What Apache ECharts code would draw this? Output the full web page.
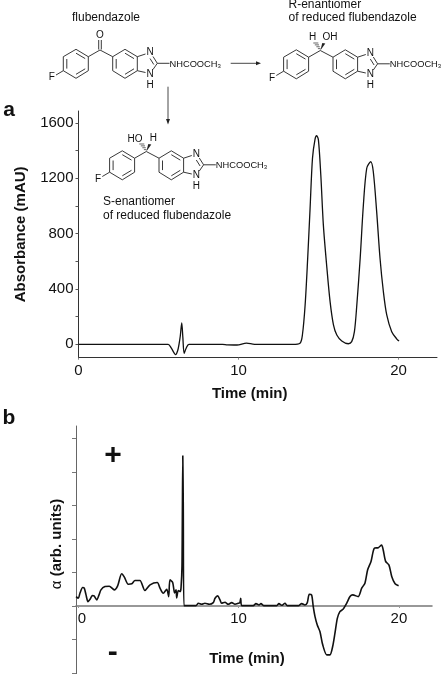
<!DOCTYPE html>
<html><head><meta charset="utf-8">
<style>html,body{margin:0;padding:0;background:#fff}#c{width:441px;height:674px}</style>
<script src="https://cdn.jsdelivr.net/npm/echarts@6/dist/echarts.min.js"></script>
</head><body><div id="c"></div>
<script>
// Panel a: absorbance (mAU) vs. time (min)
const absorbanceTrace = [[0,0],[3,0],[5.6,0],[5.8,-28],[6.07,-75],[6.2,-45],[6.28,0],[6.36,60],[6.45,155],[6.52,50],[6.6,-65],[6.72,-30],[6.9,0],[9,0],[9.3,-4],[9.9,-5],[10.5,9],[11,0],[13.4,0],[13.84,8],[13.99,67],[14.16,284],[14.32,622],[14.47,983],[14.62,1345],[14.78,1483],[14.88,1508],[14.99,1478],[15.14,1224],[15.3,862],[15.52,552],[15.72,308],[15.93,140],[16.14,67],[16.45,24],[16.86,4],[17.07,19],[17.24,91],[17.39,284],[17.6,622],[17.8,1007],[18.01,1273],[18.26,1320],[18.42,1248],[18.63,959],[18.84,622],[19.05,380],[19.26,212],[19.57,91],[19.89,38],[20.03,24]];
const absorbanceTicks = [0,200,400,600,800,1000,1200,1400,1600];
const absorbanceLabels = [0,400,800,1200,1600];
const timeLabels = [0,10,20];
// Panel b: optical rotation (arbitrary units) vs. time (min)
const rotationTrace = [[-0.12,0.28],[0.02,0.23],[0.12,0.38],[0.29,0.55],[0.39,0.53],[0.5,0.33],[0.62,0.13],[0.75,0.2],[0.89,0.31],[1,0.3],[1.17,0.18],[1.31,0.33],[1.43,0.48],[1.68,0.58],[1.95,0.59],[2.26,0.48],[2.47,0.6],[2.72,0.96],[2.88,0.87],[3.13,0.65],[3.35,0.66],[3.55,0.76],[3.86,0.76],[4.17,0.46],[4.49,0.63],[4.94,0.7],[5.11,0.53],[5.31,0.38],[5.53,0.5],[5.65,0.28],[5.73,0.78],[5.9,0.7],[6.02,0.39],[6.11,0.48],[6.15,0.24],[6.25,0.46],[6.37,0.43],[6.42,0.54],[6.48,1.2],[6.53,4.48],[6.56,3.0],[6.6,0.01],[7.35,0.01],[7.5,0.08],[7.71,0.05],[7.91,0.08],[8.18,0.05],[8.43,0.1],[8.54,0.23],[8.7,0.3],[8.85,0.18],[8.95,0.08],[9.16,0.11],[9.36,0.05],[9.58,0.1],[9.78,0.05],[9.99,0.08],[10.09,0.1],[10.14,0.23],[10.2,0.01],[10.92,0.01],[11.09,0.07],[11.28,0.03],[11.4,0.07],[11.59,0.01],[12.38,0.01],[12.52,0.07],[12.69,0.02],[12.9,0.08],[13.04,0.01],[13.73,0.01],[13.94,0.07],[14.14,0.03],[14.29,0.1],[14.41,0.35],[14.56,0.33],[14.66,-0.02],[14.77,-0.32],[14.91,-0.57],[15.08,-0.77],[15.25,-1.16],[15.5,-1.46],[15.7,-1.46],[15.87,-1.21],[16.01,-0.82],[16.16,-0.37],[16.32,-0.17],[16.53,-0.09],[16.74,0.08],[16.95,0.28],[17.12,0.33],[17.46,0.28],[17.68,0.53],[17.88,0.68],[18.05,1.08],[18.26,1.33],[18.46,1.72],[18.71,1.74],[18.92,1.82],[19.02,1.67],[19.17,1.33],[19.38,1.22],[19.55,0.88],[19.76,0.66],[19.98,0.6]];
const rotationTicks = [-2,-1,0,1,2,3,4,5];

const FONT = '"Liberation Sans", Arial, sans-serif';
const INK = '#111';
const g = [];
function text(x, y, t, size, opts) {
  opts = opts || {};
  g.push({type:'text', x, y, rotation: opts.rot || 0, silent:true, z:5,
    style:{text:t, font:(opts.bold?'bold ':'') + size + 'px ' + FONT, fill:opts.fill||INK,
      textAlign:opts.align||'center', textVerticalAlign:'middle', textBaseline:'middle', rich:opts.rich}});
}
function seg(x1,y1,x2,y2,w,c){
  g.push({type:'line', silent:true, z:5, shape:{x1,y1,x2,y2}, style:{stroke:c||'#222', lineWidth:w||0.9}});
}
function molecule(dx, dy, dxC, centre) {
  const P = (x,y)=>[x+dx,y+dy];
  const ring = pts => pts.forEach((p,i)=>{const q=pts[(i+1)%pts.length]; const a=P(p[0],p[1]), b=P(q[0],q[1]); seg(a[0],a[1],b[0],b[1]);});
  const L = (x1,y1,x2,y2)=>{const a=P(x1,y1), b=P(x2,y2); seg(a[0],a[1],b[0],b[1]);};
  ring([[76,49.3],[88.3,56.7],[88.3,70.7],[76,78.3],[63.3,70.7],[63.3,56.7]]);
  L(66.8,59,66.8,68.6); L(76,53.2,85.2,58.6); L(85.2,68.8,76,74.3);
  ring([[125,49.3],[137.3,56.7],[137.3,70.7],[125,78.3],[112.7,70.7],[112.7,56.7]]);
  L(116.2,59,116.2,68.6); L(125,53.2,134,58.6); L(134,68.8,125,74.3);
  L(63.3,70.7,56,75); L(88.3,56.7,100,50); L(100,50,112.7,56.7);
  L(137.3,56.7,145.5,54); L(153,56.5,157.3,63.3); L(150,58.5,153.8,64.5); L(157.3,63.3,153,69.5); L(145.5,72.5,137.3,70.7); L(157.3,63.3,169.5,63.3);
  const t=(x,y,s)=>{const a=P(x,y); text(a[0],a[1],s,10);};
  t(51.7,77.5,'F'); t(150,52.3,'N'); t(150,74,'N'); t(150,85,'H');
  const n=P(169.5,64.3); text(n[0],n[1],'NHCOOCH',9.3,{align:'left'});
  const s3=P(217.5,66.3); text(s3[0],s3[1],'3',6,{align:'left'});
  centre(P);
}
// flubendazole
molecule(0,0,0,P=>{
  seg(98.7,49.5,98.7,40); seg(101.3,49.5,101.3,40);
  text(100,35,'O',10);
});
function stereo(P, hashDx, wedgeDx){
  const c=P(100,50);
  for(let i=1;i<=4;i++){const f=i/4, x=c[0]+hashDx*f, y=c[1]-7.5*f, w=0.9+f*1.6; seg(x-w,y,x+w,y,0.7);}
  g.push({type:'polygon',silent:true,z:5,shape:{points:[[c[0],c[1]],[c[0]+wedgeDx-1.5,c[1]-7.5],[c[0]+wedgeDx+1.5,c[1]-7]]},style:{fill:'#222'}});
}
// R-enantiomer
molecule(220.3,0.5,0,P=>{
  stereo(P,-4.5,3.5);
  text(312.7,37.7,'H',10); text(330,37.7,'OH',10);
});
// S-enantiomer
molecule(46.3,101.5,0,P=>{
  stereo(P,-4.5,3.5);
  text(135,139,'HO',10); text(153.3,138.6,'H',10);
});
text(106,17.5,'flubendazole',12);
text(288.5,5,'R-enantiomer',12,{align:'left'});
text(288.5,18,'of reduced flubendazole',12,{align:'left'});
text(103,202,'S-enantiomer',12,{align:'left'});
text(103,215.5,'of reduced flubendazole',12,{align:'left'});
// reaction arrows
seg(230.7,63.3,257,63.3,0.9,'#333');
g.push({type:'polygon',silent:true,z:5,shape:{points:[[261,63.3],[256,61.3],[256,65.3]]},style:{fill:'#222'}});
seg(168,86.7,168,120,0.9,'#333');
g.push({type:'polygon',silent:true,z:5,shape:{points:[[168,124.5],[166,119],[170,119]]},style:{fill:'#222'}});
// panel letters and signs
text(9,110,'a',21,{bold:true});
text(9,418,'b',21,{bold:true});
text(113,456,'+',30,{bold:true});
text(112.7,653,'-',30,{bold:true});

const chart = echarts.init(document.getElementById('c'),null,{renderer:'canvas'});
const label = {color:INK, fontFamily:FONT, fontSize:15};
const nameStyle = {color:INK, fontFamily:FONT, fontSize:15, fontWeight:'bold'};
chart.setOption({
  animation:false, backgroundColor:'#fff',
  grid:[
    {left:78.5, top:111, width:358.5, height:246.7, outerBoundsMode:'none'},
    {left:76, top:426, width:356, height:248, outerBoundsMode:'none'}
  ],
  xAxis:[
    {gridIndex:0, type:'value', min:0, max:22.4,
     name:'Time (min)', nameLocation:'middle', nameGap:29, nameTextStyle:{...nameStyle, padding:[0,16,0,0]},
     axisLine:{show:true,onZero:false,lineStyle:{color:'#333',width:1}},
     axisTick:{show:true,length:2,lineStyle:{color:'#888'},customValues:timeLabels},
     axisLabel:{...label,margin:6,customValues:timeLabels},
     splitLine:{show:false}},
    {gridIndex:1, type:'value', min:-0.125, max:22.06, position:'bottom', offset:-68,
     name:'Time (min)', nameLocation:'middle', nameGap:45, nameTextStyle:{...nameStyle, padding:[0,14,0,0]},
     axisLine:{show:true,onZero:false,lineStyle:{color:'#777',width:1.5}},
     axisTick:{show:true,length:2,lineStyle:{color:'#999'},customValues:timeLabels},
     axisLabel:{...label,margin:5,customValues:timeLabels,
       formatter:v=>v===0?'{z|0}':String(v),
       rich:{z:{...label,padding:[0,0,0,8]}}},
     splitLine:{show:false}}
  ],
  yAxis:[
    {gridIndex:0, type:'value', min:-97, max:1687,
     name:'Absorbance (mAU)', nameLocation:'middle', nameGap:50, nameRotate:90, nameTextStyle:nameStyle,
     axisLine:{show:true,onZero:false,lineStyle:{color:'#333',width:1}},
     axisTick:{show:true,length:3,lineStyle:{color:'#555'},customValues:absorbanceTicks},
     axisLabel:{...label,margin:5,customValues:absorbanceLabels,formatter:v=>String(v)},
     splitLine:{show:false}},
    {gridIndex:1, type:'value', min:-2.03, max:5.37,
     name:'{a|α} {b|(arb. units)}', nameLocation:'middle', nameGap:12, nameRotate:90,
     nameTextStyle:{...nameStyle, padding:[0,0,0,12],
       rich:{a:{...label,fontWeight:'normal'},b:{...nameStyle}}},
     axisLine:{show:true,onZero:false,lineStyle:{color:'#666',width:1}},
     axisTick:{show:true,length:4,lineStyle:{color:'#777'},customValues:rotationTicks},
     axisLabel:{show:false},
     splitLine:{show:false}}
  ],
  series:[
    {type:'line', xAxisIndex:0, yAxisIndex:0, data:absorbanceTrace, showSymbol:false, smooth:0.3,
     lineStyle:{color:'#111',width:1.3}},
    {type:'line', xAxisIndex:1, yAxisIndex:1, data:rotationTrace, showSymbol:false, smooth:0.25,
     lineStyle:{color:'#111',width:1.6}}
  ],
  graphic:g
});
</script></body></html>
